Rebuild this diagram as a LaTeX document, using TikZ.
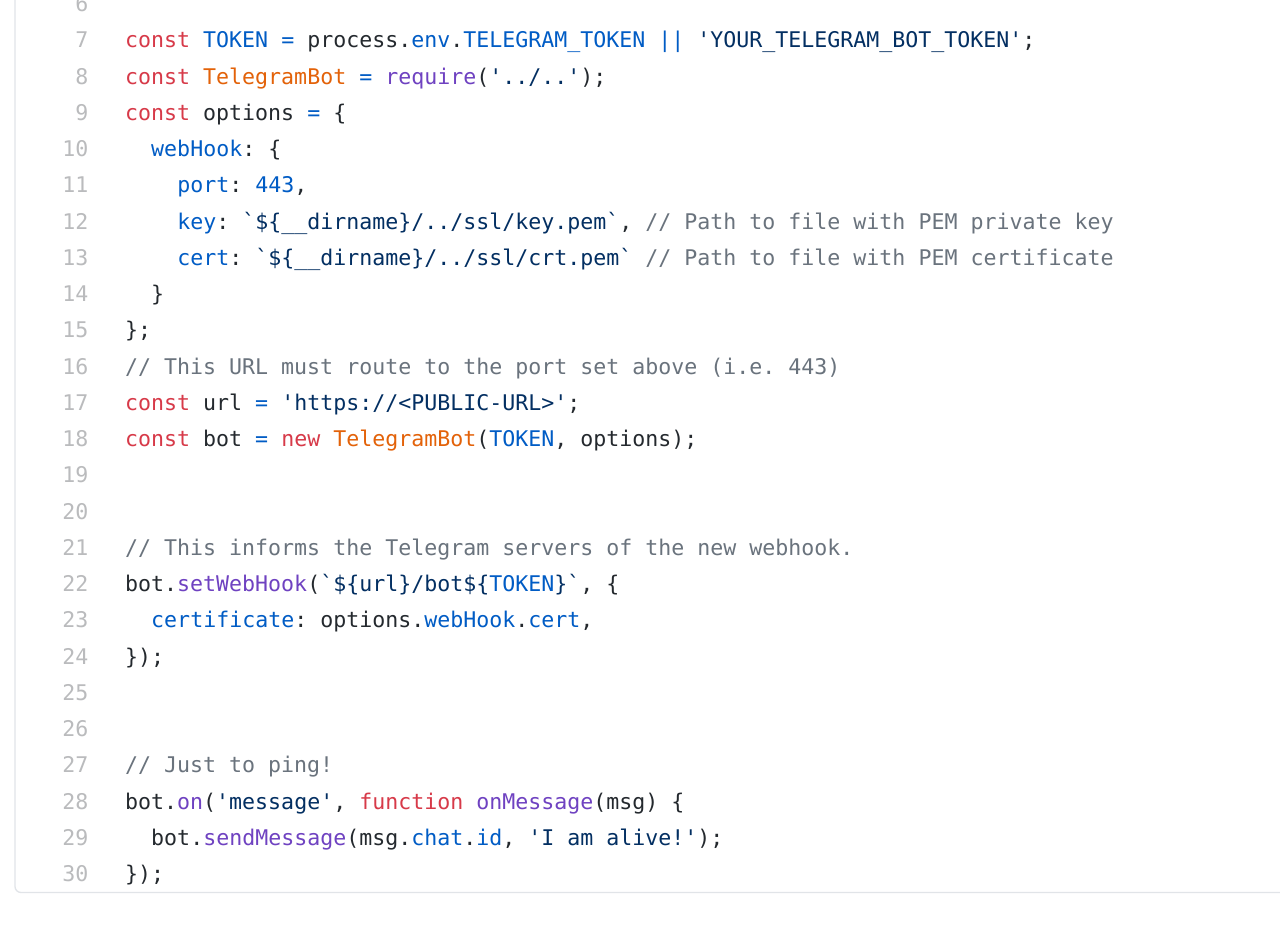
\documentclass[tikz,border=0pt]{standalone}
\usepackage{fontspec}
\setmonofont{DejaVu Sans Mono}
\usepackage{xcolor}
\definecolor{kwc}{HTML}{D73A49}
\definecolor{blc}{HTML}{005CC5}
\definecolor{ogc}{HTML}{E36209}
\definecolor{puc}{HTML}{6F42C1}
\definecolor{stc}{HTML}{032F62}
\definecolor{cmc}{HTML}{6A737D}
\definecolor{plc}{HTML}{24292E}
\definecolor{lnc}{HTML}{BABBBD}
\definecolor{frc}{HTML}{E1E4E8}
\newcommand\kw[1]{\textcolor{kwc}{#1}}
\newcommand\bl[1]{\textcolor{blc}{#1}}
\newcommand\og[1]{\textcolor{ogc}{#1}}
\newcommand\pu[1]{\textcolor{puc}{#1}}
\newcommand\st[1]{\textcolor{stc}{#1}}
\newcommand\cm[1]{\textcolor{cmc}{#1}}
\begin{document}
\begin{tikzpicture}[x=1pt,y=-1pt,
  codefont/.style={font=\ttfamily\fontsize{21.6}{26}\selectfont},
  num/.style={codefont,anchor=base east,inner sep=0pt,text=lnc},
  code/.style={codefont,anchor=base west,inner sep=0pt,text=plc},
  frame/.style={draw=frc,line width=1.3pt,rounded corners=6pt}]
\useasboundingbox (0,0) rectangle (1280,936);
\fill[white] (0,0) rectangle (1280,936);
\clip (0,0) rectangle (1280,936);
\draw[frame] (15,-10) -- (15,892.5) -- (1300,892.5);
\def\ly#1{48+#1*36.24}
\foreach \i in {6,...,30}
  \node[num] (n\i) at (88.5,{48+(\i-7)*36.24}) {\i};
\def\cx#1{125+#1*13.02}
\node[code] (c7)  at ({\cx{0}},{\ly{0}}) {\kw{const} \bl{TOKEN} \bl{=} process.\bl{env}.\bl{TELEGRAM\_TOKEN} \bl{||} \st{'YOUR\_TELEGRAM\_BOT\_TOKEN'};};
\node[code] (c8)  at ({\cx{0}},{\ly{1}}) {\kw{const} \og{TelegramBot} \bl{=} \pu{require}(\st{'../..'});};
\node[code] (c9)  at ({\cx{0}},{\ly{2}}) {\kw{const} options \bl{=} \{};
\node[code] (c10) at ({\cx{2}},{\ly{3}}) {\bl{webHook}: \{};
\node[code] (c11) at ({\cx{4}},{\ly{4}}) {\bl{port}: \bl{443},};
\node[code] (c12) at ({\cx{4}},{\ly{5}}) {\bl{key}: \st{`\$\{\_\_dirname\}/../ssl/key.pem`}, \cm{// Path to file with PEM private key}};
\node[code] (c13) at ({\cx{4}},{\ly{6}}) {\bl{cert}: \st{`\$\{\_\_dirname\}/../ssl/crt.pem`} \cm{// Path to file with PEM certificate}};
\node[code] (c14) at ({\cx{2}},{\ly{7}}) {\}};
\node[code] (c15) at ({\cx{0}},{\ly{8}}) {\};};
\node[code] (c16) at ({\cx{0}},{\ly{9}}) {\cm{// This URL must route to the port set above (i.e. 443)}};
\node[code] (c17) at ({\cx{0}},{\ly{10}}) {\kw{const} url \bl{=} \st{'https://<PUBLIC-URL>'};};
\node[code] (c18) at ({\cx{0}},{\ly{11}}) {\kw{const} bot \bl{=} \kw{new} \og{TelegramBot}(\bl{TOKEN}, options);};
\node[code] (c21) at ({\cx{0}},{\ly{14}}) {\cm{// This informs the Telegram servers of the new webhook.}};
\node[code] (c22) at ({\cx{0}},{\ly{15}}) {bot.\pu{setWebHook}(\st{`\$\{url\}/bot\$\{}\bl{TOKEN}\st{\}`}, \{};
\node[code] (c23) at ({\cx{2}},{\ly{16}}) {\bl{certificate}: options.\bl{webHook}.\bl{cert},};
\node[code] (c24) at ({\cx{0}},{\ly{17}}) {\});};
\node[code] (c27) at ({\cx{0}},{\ly{20}}) {\cm{// Just to ping!}};
\node[code] (c28) at ({\cx{0}},{\ly{21}}) {bot.\pu{on}(\st{'message'}, \kw{function} \pu{onMessage}(msg) \{};
\node[code] (c29) at ({\cx{2}},{\ly{22}}) {bot.\pu{sendMessage}(msg.\bl{chat}.\bl{id}, \st{'I am alive!'});};
\node[code] (c30) at ({\cx{0}},{\ly{23}}) {\});};
\end{tikzpicture}
\end{document}
